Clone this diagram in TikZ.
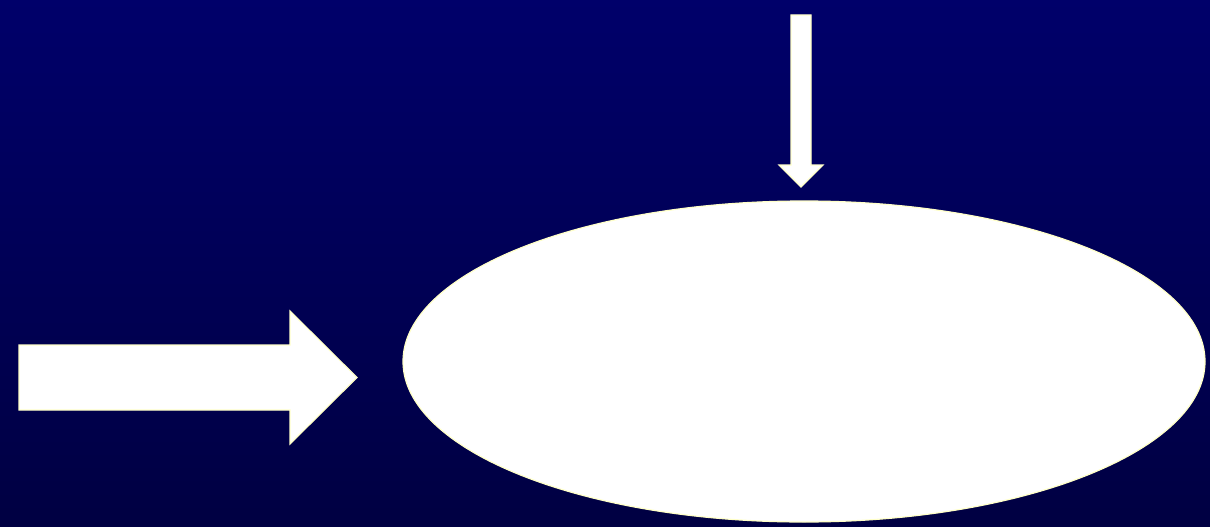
\documentclass[tikz,border=0pt]{standalone}
\usetikzlibrary{shapes.geometric}
\definecolor{bgtop}{RGB}{0,0,106}
\definecolor{bgbot}{RGB}{0,0,66}
\definecolor{rimcol}{RGB}{255,255,200}
\tikzset{
  shapefill/.style={fill=white, draw=rimcol, line width=1.2pt, line join=miter},
}
\begin{document}
\begin{tikzpicture}[x=1pt,y=-1pt]
  \shade[top color=bgtop, bottom color=bgbot] (0,0) rectangle (1210,527);
  \useasboundingbox (0,0) rectangle (1210,527);
  % ellipse
  \node[ellipse, shapefill, minimum width=802pt, minimum height=321pt, inner sep=0pt] (ell) at (804,361.5) {};
  % down arrow
  \draw[shapefill] (791,15) -- (811,15) -- (811,165) -- (823,165) -- (801,187) -- (779,165) -- (791,165) -- cycle;
  % right arrow
  \draw[shapefill] (19,345) -- (290,345) -- (290,311) -- (357,377.5) -- (290,444) -- (290,410) -- (19,410) -- cycle;
\end{tikzpicture}
\end{document}
